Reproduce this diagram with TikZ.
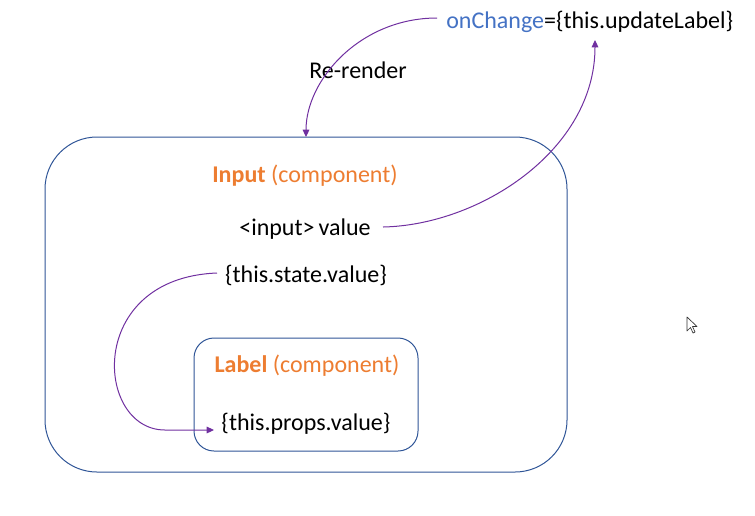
\documentclass[tikz,border=0pt]{standalone}
\usepackage{fontspec}
\setmainfont{Carlito}
\usetikzlibrary{arrows.meta}
\definecolor{boxblue}{RGB}{47,85,151}
\definecolor{orng}{RGB}{237,125,49}
\definecolor{txtblue}{RGB}{68,114,196}
\definecolor{purp}{RGB}{112,48,160}
\begin{document}
\begin{tikzpicture}[x=0.75pt,y=-0.75pt,
  txt/.style={inner sep=0pt,font=\fontsize{18}{21}\selectfont,text=black},
  comp/.style={draw=boxblue,line width=0.75pt},
  flow/.style={draw=purp,line width=0.75pt,-{Triangle[length=5.5pt,width=5pt]}}]
\useasboundingbox (0,0) rectangle (755,515);
% boxes
\draw[comp,rounded corners=39pt] (45,137) rectangle (567,472);
\draw[comp,rounded corners=15pt] (194,338) rectangle (418,451);
% texts
\node[txt,text=orng] (inputt) at (305,176) {\textbf{Input} (component)};
\node[txt] (inval) at (305,229) {<input>\,value};
\node[txt] (state) at (306,275) {\{this.state.value\}};
\node[txt,text=orng] (labelt) at (307,366) {\textbf{Label} (component)};
\node[txt] (props) at (306,424) {\{this.props.value\}};
\node[txt] (rerender) at (358,70) {Re-render};
\node[txt,anchor=west] (onch) at (446,22) {\textcolor{txtblue}{onChange}=\{this.updateLabel\}};
% connector end points
\coordinate (c1s) at (437,18);
\coordinate (c1e) at (306,137);
\coordinate (c2s) at (383,227);
\coordinate (c2e) at (595,40);
\coordinate (c3s) at (217,273);
\coordinate (c3m) at (165,430);
\coordinate (c3e) at (214,430);
% connectors
\draw[flow] (c1s) .. controls (360,18) and (306,80) .. (c1e);
\draw[flow] (c2s) .. controls (480,225) and (595,150) .. (c2e);
\draw[flow] (c3s) .. controls (85,278) and (95,430) .. (c3m) -- (c3e);
% mouse cursor
\draw[fill=white,draw=black!80,line width=0.5pt,line join=round]
  (687,317) -- (687,331) -- (690.5,327.5) -- (693,333) -- (695,332) -- (692.5,326.5) -- (697,326.5) -- cycle;
\end{tikzpicture}
\end{document}
